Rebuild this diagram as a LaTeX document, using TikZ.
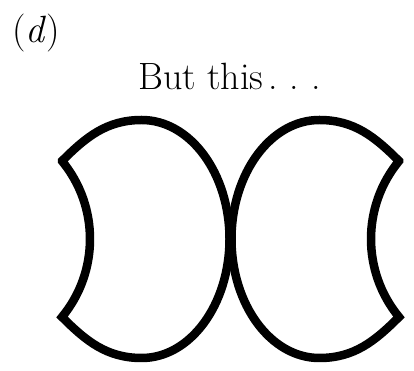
\documentclass[tikz,border=0pt]{standalone}
\usepackage{fontspec}
\begin{document}
\begin{tikzpicture}[x=1pt,y=1pt,
  outline/.style={draw=black,line width=8.5pt,line join=miter,fill=white},
  lbl/.style={inner sep=0pt,font=\fontsize{38}{44}\selectfont}]
\useasboundingbox (0,0) rectangle (414,371);
% left lobe
\path[outline] (62,210) .. controls (86,234) and (106.7,251) .. (141.7,251)
  arc[start angle=90,end angle=-90,x radius=87.8,y radius=119]
  .. controls (106.7,13) and (86,30) .. (62,54)
  arc[start angle=-39.5,end angle=39.5,radius=122.6] -- cycle;
% right lobe (mirror image)
\begin{scope}[shift={(461,0)},xscale=-1]
\path[outline] (62,210) .. controls (86,234) and (106.7,251) .. (141.7,251)
  arc[start angle=90,end angle=-90,x radius=87.8,y radius=119]
  .. controls (106.7,13) and (86,30) .. (62,54)
  arc[start angle=-39.5,end angle=39.5,radius=122.6] -- cycle;
\end{scope}
\node[lbl,anchor=base west] (lab) at (12,328) {(\textit{d})};
\node[lbl,anchor=base] (cap) at (229.5,281) {But this\hspace{5pt}.\hspace{12pt}.\hspace{12pt}.};
\end{tikzpicture}
\end{document}
